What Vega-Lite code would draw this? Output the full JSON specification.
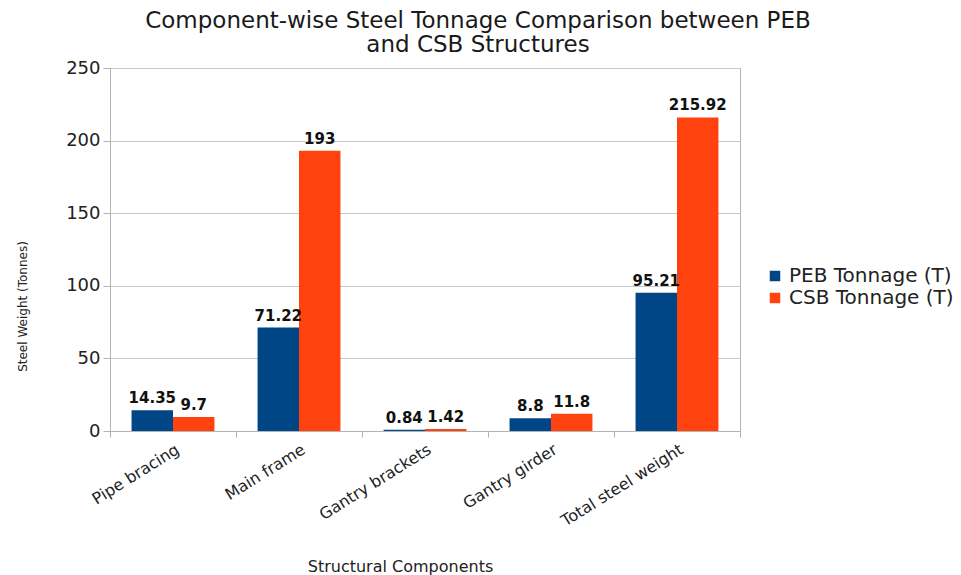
{
  "$schema": "https://vega.github.io/schema/vega-lite/v6.json",
  "autosize": {"type": "none"},
  "padding": {"left": 110, "top": 68, "right": 221, "bottom": 144},
  "width": 630,
  "height": 363,
  "background": "white",
  "title": {
    "text": ["Component-wise Steel Tonnage Comparison between PEB", "and CSB Structures"],
    "font": "DejaVu Sans",
    "fontSize": 23,
    "fontWeight": "normal",
    "color": "#1a1a1a",
    "lineHeight": 24,
    "anchor": "middle",
    "dx": 53,
    "offset": 2
  },
  "data": {
    "values": [
      {"component": "Pipe bracing", "series": "PEB Tonnage (T)", "value": 14.35},
      {"component": "Pipe bracing", "series": "CSB Tonnage (T)", "value": 9.7},
      {"component": "Main frame", "series": "PEB Tonnage (T)", "value": 71.22},
      {"component": "Main frame", "series": "CSB Tonnage (T)", "value": 193},
      {"component": "Gantry brackets", "series": "PEB Tonnage (T)", "value": 0.84},
      {"component": "Gantry brackets", "series": "CSB Tonnage (T)", "value": 1.42},
      {"component": "Gantry girder", "series": "PEB Tonnage (T)", "value": 8.8},
      {"component": "Gantry girder", "series": "CSB Tonnage (T)", "value": 11.8},
      {"component": "Total steel weight", "series": "PEB Tonnage (T)", "value": 95.21},
      {"component": "Total steel weight", "series": "CSB Tonnage (T)", "value": 215.92}
    ]
  },
  "encoding": {
    "x": {
      "field": "component",
      "type": "nominal",
      "sort": null,
      "scale": {"paddingInner": 0, "paddingOuter": 0},
      "axis": {
        "title": "Structural Components",
        "titleFont": "DejaVu Sans",
        "titleFontSize": 16,
        "titleFontWeight": "normal",
        "titleColor": "#222222",
        "titleX": 290,
        "titleY": 143,
        "titleBaseline": "bottom",
        "labelFont": "DejaVu Sans",
        "labelFontSize": 16,
        "labelColor": "#222222",
        "labelAngle": -32,
        "labelAlign": "right",
        "labelBaseline": "top",
        "labelPadding": 4,
        "tickBand": "extent",
        "tickSize": 6,
        "tickColor": "#b3b3b3",
        "domainColor": "#b3b3b3",
        "grid": false
      }
    },
    "xOffset": {
      "field": "series",
      "type": "nominal",
      "sort": ["PEB Tonnage (T)", "CSB Tonnage (T)"],
      "scale": {"paddingInner": 0, "paddingOuter": 0.52}
    },
    "y": {
      "field": "value",
      "type": "quantitative",
      "scale": {"domain": [0, 250], "nice": false},
      "axis": {
        "title": "Steel Weight (Tonnes)",
        "titleFont": "DejaVu Sans",
        "titleFontSize": 12,
        "titleFontWeight": "normal",
        "titleColor": "#222222",
        "titleX": -81,
        "titleY": 238,
        "titleAlign": "center",
        "titleAngle": -90,
        "values": [0, 50, 100, 150, 200, 250],
        "labelFont": "DejaVu Sans",
        "labelFontSize": 18,
        "labelColor": "#222222",
        "labelPadding": 3,
        "tickSize": 7,
        "tickColor": "#b3b3b3",
        "domainColor": "#b3b3b3",
        "gridColor": "#c8c8c8",
        "gridWidth": 1
      }
    }
  },
  "layer": [
    {
      "mark": {"type": "bar"},
      "encoding": {
        "color": {
          "field": "series",
          "type": "nominal",
          "sort": ["PEB Tonnage (T)", "CSB Tonnage (T)"],
          "scale": {"domain": ["PEB Tonnage (T)", "CSB Tonnage (T)"], "range": ["#004586", "#ff420e"]},
          "legend": {
            "title": null,
            "orient": "none",
            "legendX": 655,
            "legendY": 198,
            "symbolType": "square",
            "symbolSize": 110,
            "symbolStrokeWidth": 0,
            "labelFont": "DejaVu Sans",
            "labelFontSize": 20,
            "labelLimit": 300,
            "labelColor": "#222222",
            "rowPadding": 2,
            "labelOffset": 4
          }
        }
      }
    },
    {
      "mark": {
        "type": "text",
        "baseline": "bottom",
        "dy": -4,
        "font": "DejaVu Sans",
        "fontSize": 15,
        "fontWeight": "bold",
        "color": "#111111"
      },
      "encoding": {
        "text": {"field": "value", "type": "quantitative"}
      }
    }
  ],
  "config": {
    "view": {"stroke": "#b3b3b3", "strokeWidth": 1}
  }
}
